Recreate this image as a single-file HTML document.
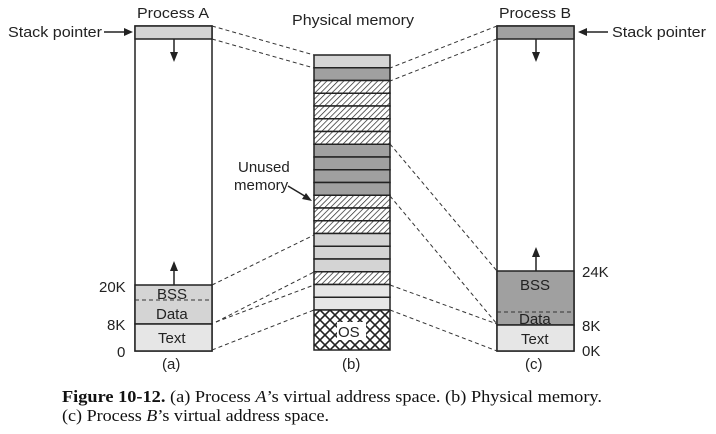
<!DOCTYPE html>
<html><head><meta charset="utf-8"><style>
body{margin:0;background:#fff;width:716px;height:434px;overflow:hidden}
svg{display:block}
text{font-family:"Liberation Sans",sans-serif;font-size:15px;fill:#222}
.cap{font-family:"Liberation Serif",serif;font-size:17px;fill:#111}
</style></head><body>
<svg width="716" height="434" viewBox="0 0 716 434" xmlns="http://www.w3.org/2000/svg">
<defs>
<pattern id="h" width="4" height="4" patternUnits="userSpaceOnUse" patternTransform="rotate(45)">
<rect width="4" height="4" fill="#fff"/><line x1="0" y1="0" x2="0" y2="4" stroke="#222" stroke-width="1.4"/></pattern>
<pattern id="x" width="10" height="10" patternUnits="userSpaceOnUse">
<rect width="10" height="10" fill="#fff"/><path d="M0 0L10 10M10 0L0 10" stroke="#222" stroke-width="1.6"/></pattern>
</defs>
<!-- Process A -->
<text x="137" y="18" textLength="72" lengthAdjust="spacingAndGlyphs">Process A</text>
<rect x="135" y="26" width="77" height="325" fill="#fff" stroke="#222" stroke-width="1.5"/>
<rect x="135" y="26" width="77" height="13" fill="#d4d4d4" stroke="#222" stroke-width="1.5"/>
<rect x="135" y="285" width="77" height="39" fill="#d4d4d4" stroke="#222" stroke-width="1.5"/>
<rect x="135" y="324" width="77" height="27" fill="#e6e6e6" stroke="#222" stroke-width="1.5"/>
<line x1="135" y1="300" x2="212" y2="300" stroke="#333" stroke-dasharray="4,3"/>
<text x="157" y="299">BSS</text><text x="156" y="319">Data</text><text x="158" y="343">Text</text>
<text x="99" y="292">20K</text><text x="107" y="330">8K</text><text x="117" y="357">0</text>
<text x="162" y="369">(a)</text>
<line x1="174" y1="39" x2="174" y2="58" stroke="#222" stroke-width="1.5"/><path d="M170 52L174 62L178 52Z" fill="#222"/>
<line x1="174" y1="285" x2="174" y2="266" stroke="#222" stroke-width="1.5"/><path d="M170 271L174 261L178 271Z" fill="#222"/>
<text x="8" y="37" textLength="94" lengthAdjust="spacingAndGlyphs">Stack pointer</text>
<line x1="104" y1="32" x2="126" y2="32" stroke="#222" stroke-width="1.5"/><path d="M124 28L133 32L124 36Z" fill="#222"/>
<!-- Physical -->
<text x="292" y="25" textLength="122" lengthAdjust="spacingAndGlyphs">Physical memory</text>
<g stroke="#222" stroke-width="1.5">
<rect x="314" y="55" width="76" height="12.75" fill="#d4d4d4"/>
<rect x="314" y="67.75" width="76" height="12.75" fill="#a0a0a0"/>
<rect x="314" y="80.5" width="76" height="12.75" fill="url(#h)"/>
<rect x="314" y="93.25" width="76" height="12.75" fill="url(#h)"/>
<rect x="314" y="106" width="76" height="12.75" fill="url(#h)"/>
<rect x="314" y="118.75" width="76" height="12.75" fill="url(#h)"/>
<rect x="314" y="131.5" width="76" height="12.75" fill="url(#h)"/>
<rect x="314" y="144.25" width="76" height="12.75" fill="#a0a0a0"/>
<rect x="314" y="157" width="76" height="12.75" fill="#a0a0a0"/>
<rect x="314" y="169.75" width="76" height="12.75" fill="#a0a0a0"/>
<rect x="314" y="182.5" width="76" height="12.75" fill="#a0a0a0"/>
<rect x="314" y="195.25" width="76" height="12.75" fill="url(#h)"/>
<rect x="314" y="208" width="76" height="12.75" fill="url(#h)"/>
<rect x="314" y="220.75" width="76" height="12.75" fill="url(#h)"/>
<rect x="314" y="233.5" width="76" height="12.75" fill="#d4d4d4"/>
<rect x="314" y="246.25" width="76" height="12.75" fill="#d4d4d4"/>
<rect x="314" y="259" width="76" height="12.75" fill="#d4d4d4"/>
<rect x="314" y="271.75" width="76" height="12.75" fill="url(#h)"/>
<rect x="314" y="284.5" width="76" height="12.75" fill="#e6e6e6"/>
<rect x="314" y="297.25" width="76" height="12.75" fill="#e6e6e6"/>
<rect x="314" y="310" width="76" height="40" fill="url(#x)"/>
</g>
<rect x="337" y="322" width="29" height="18" fill="#fff"/>
<text x="338" y="337">OS</text>
<text x="342" y="369">(b)</text>
<text x="238" y="172">Unused</text><text x="234" y="190">memory</text>
<line x1="288" y1="186" x2="308" y2="198" stroke="#222" stroke-width="1.5"/><path d="M302 199L312 201L306 193Z" fill="#222"/>
<!-- Process B -->
<text x="499" y="18" textLength="72" lengthAdjust="spacingAndGlyphs">Process B</text>
<rect x="497" y="26" width="77" height="325" fill="#fff" stroke="#222" stroke-width="1.5"/>
<rect x="497" y="26" width="77" height="13" fill="#a0a0a0" stroke="#222" stroke-width="1.5"/>
<rect x="497" y="271" width="77" height="54" fill="#a0a0a0" stroke="#222" stroke-width="1.5"/>
<rect x="497" y="325" width="77" height="26" fill="#e6e6e6" stroke="#222" stroke-width="1.5"/>
<line x1="497" y1="312" x2="574" y2="312" stroke="#333" stroke-dasharray="4,3"/>
<text x="520" y="290">BSS</text><text x="519" y="324">Data</text><text x="521" y="344">Text</text>
<text x="582" y="277">24K</text><text x="582" y="331">8K</text><text x="582" y="356">0K</text>
<text x="525" y="369">(c)</text>
<line x1="536" y1="39" x2="536" y2="58" stroke="#222" stroke-width="1.5"/><path d="M532 52L536 62L540 52Z" fill="#222"/>
<line x1="536" y1="271" x2="536" y2="252" stroke="#222" stroke-width="1.5"/><path d="M532 257L536 247L540 257Z" fill="#222"/>
<text x="612" y="37" textLength="94" lengthAdjust="spacingAndGlyphs">Stack pointer</text>
<line x1="586" y1="32" x2="608" y2="32" stroke="#222" stroke-width="1.5"/><path d="M587 28L578 32L587 36Z" fill="#222"/>
<!-- connectors -->
<g stroke="#333" stroke-width="1" stroke-dasharray="4,3" fill="none">
<line x1="212" y1="26" x2="314" y2="55"/><line x1="212" y1="39" x2="314" y2="68"/>
<line x1="212" y1="285" x2="314" y2="235"/><line x1="216" y1="322" x2="314" y2="272"/>
<line x1="216" y1="322" x2="314" y2="285"/><line x1="212" y1="350" x2="314" y2="310"/>
<line x1="497" y1="26" x2="390" y2="68"/><line x1="497" y1="39" x2="390" y2="81"/>
<line x1="390" y1="144" x2="497" y2="271"/><line x1="390" y1="196" x2="497" y2="324"/>
<line x1="390" y1="285" x2="497" y2="324"/><line x1="390" y1="310" x2="497" y2="351"/>
</g>
<text class="cap" x="62" y="402" textLength="540" lengthAdjust="spacingAndGlyphs"><tspan font-weight="bold">Figure 10-12.</tspan>  (a) Process <tspan font-style="italic">A</tspan>’s virtual address space.  (b) Physical memory.</text>
<text class="cap" x="62" y="421" textLength="267" lengthAdjust="spacingAndGlyphs">(c) Process <tspan font-style="italic">B</tspan>’s virtual address space.</text>
</svg>
</body></html>
